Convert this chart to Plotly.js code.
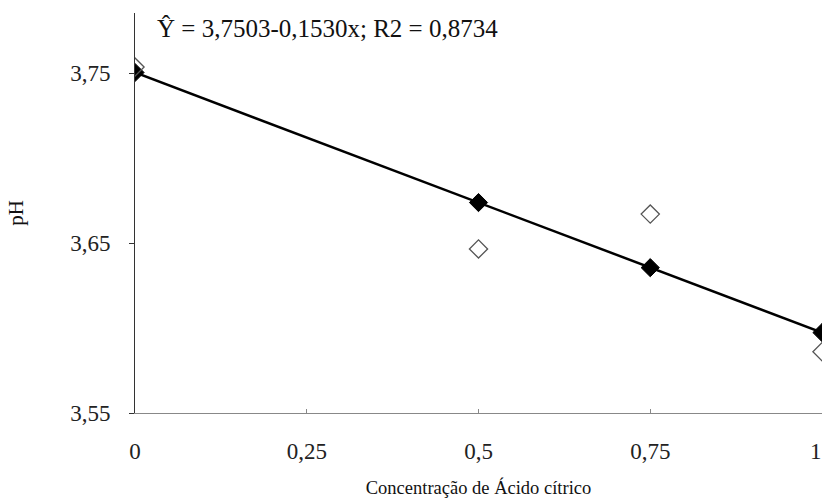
<!DOCTYPE html>
<html>
<head>
<meta charset="utf-8">
<script src="https://cdn.plot.ly/plotly-3.0.1.min.js"></script>
<style>html,body{margin:0;padding:0;background:#fff;}#chart{width:825px;height:502px;}</style>
</head>
<body>
<div id="chart"></div>
<script>
// Data
var concentracao = [0, 0.25, 0.5, 0.75, 1];
var xPoints = [0, 0.5, 0.75, 1];
var phObservado = [3.7535, 3.6465, 3.667, 3.586];
var phEstimado = [3.7503, 3.6738, 3.6355, 3.5973];
var xTickLabels = ['0', '0,25', '0,5', '0,75', '1'];
var yTickVals = [3.55, 3.65, 3.75];
var yTickLabels = ['3,55', '3,65', '3,75'];
var equacao = 'Ŷ = 3,7503-0,1530x; R2 = 0,8734';

var serif = '"Times New Roman", "Liberation Serif", "DejaVu Serif", serif';

// last x tick label sits on the right edge: drawn as an annotation anchored to its right
var axisTickText = xTickLabels.map(function (t, i) { return i === xTickLabels.length - 1 ? '' : t; });

var traces = [
  {
    x: xPoints, y: phEstimado, type: 'scatter', mode: 'lines+markers',
    line: {color: '#000', width: 2.5},
    marker: {symbol: 'diamond', size: 14, color: '#000', line: {color: '#000', width: 1}},
    showlegend: false, hoverinfo: 'skip'
  },
  {
    x: xPoints, y: phObservado, type: 'scatter', mode: 'markers',
    marker: {symbol: 'diamond-open', size: 14, color: '#555', line: {color: '#555', width: 1.3}},
    showlegend: false, hoverinfo: 'skip'
  }
];

var layout = {
  width: 825, height: 502,
  margin: {l: 135, r: 3, t: 13, b: 89},
  paper_bgcolor: '#fff', plot_bgcolor: '#fff',
  font: {family: serif, color: '#111', size: 22},
  xaxis: {
    range: [0, 1], tickvals: concentracao, ticktext: axisTickText,
    showgrid: false, zeroline: false,
    showline: true, linecolor: '#888', linewidth: 1,
    ticks: 'inside', ticklen: 4, tickcolor: '#888',
    ticklabelstandoff: 17,
    tickfont: {family: serif, size: 23, color: '#222'},
    title: {text: 'Concentração de Ácido cítrico', font: {family: serif, size: 18.5, color: '#111'}, standoff: 18}
  },
  yaxis: {
    range: [3.55, 3.7853], tickvals: yTickVals, ticktext: yTickLabels,
    showgrid: false, zeroline: false,
    showline: true, linecolor: '#333', linewidth: 1,
    ticks: 'outside', ticklen: 5, tickcolor: '#333',
    ticklabelstandoff: 14,
    tickfont: {family: serif, size: 23, color: '#222'},
    title: {text: 'pH', font: {family: serif, size: 21, color: '#111'}, standoff: 40}
  },
  annotations: [
    {
      text: equacao, xref: 'paper', yref: 'paper', x: 0.029, y: 0.961,
      xanchor: 'left', yanchor: 'middle', showarrow: false,
      font: {family: serif, size: 25, color: '#111'}
    },
    {
      text: xTickLabels[xTickLabels.length - 1], xref: 'x', yref: 'paper',
      x: concentracao[concentracao.length - 1], y: -0.095,
      xanchor: 'right', yanchor: 'middle', showarrow: false, xshift: 2,
      font: {family: serif, size: 23, color: '#222'}
    }
  ]
};

Plotly.newPlot('chart', traces, layout, {staticPlot: true, displayModeBar: false});
</script>
</body>
</html>
